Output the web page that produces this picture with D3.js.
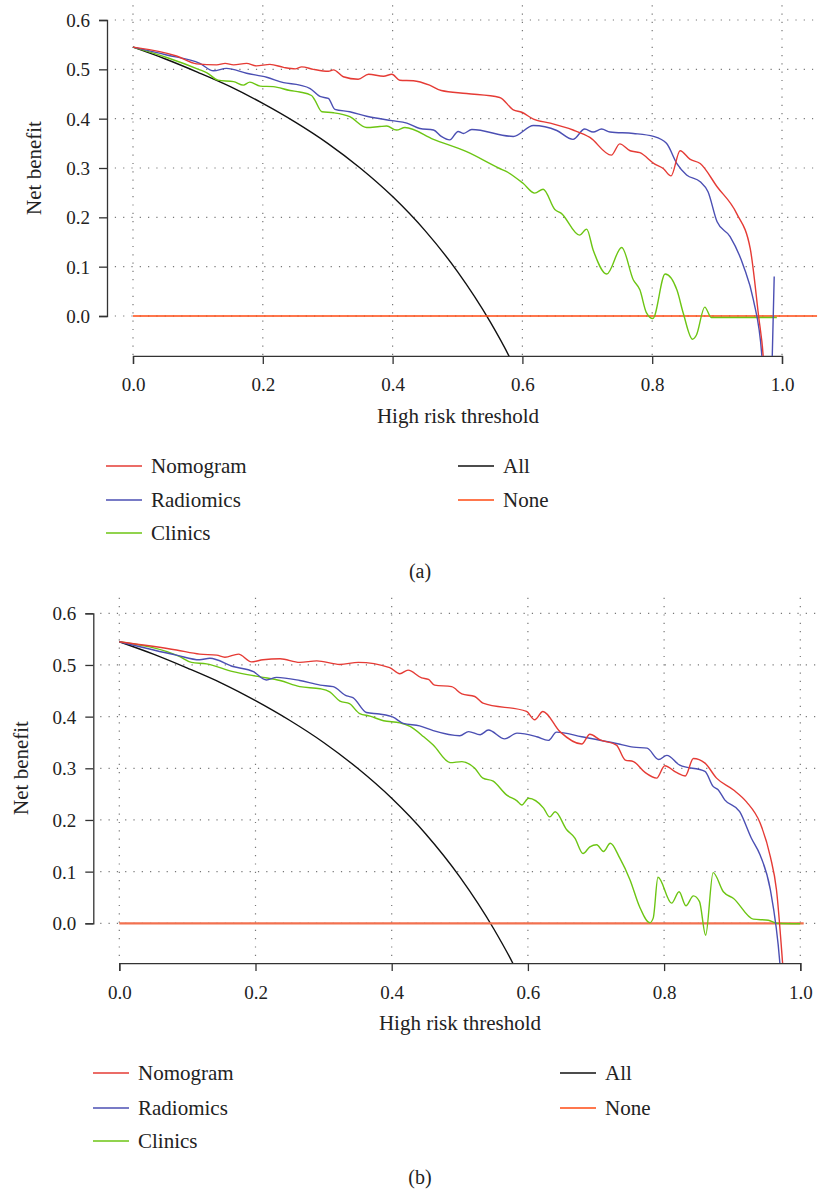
<!DOCTYPE html>
<html lang="en">
<head>
  <meta charset="utf-8">
  <title>Decision curves</title>
  <script src="https://d3js.org/d3.v7.min.js"></script>
  <style type="text/css">
    body { margin: 0; background: #fff; }
    svg text { font-family: 'Liberation Serif', 'DejaVu Serif', 'Noto Serif', serif; fill: #222; }
    .grid line { stroke: #777; stroke-width: 1.2; stroke-dasharray: 1.2,7.1; }
    .axis path, .axis line { stroke: #333; stroke-width: 1.3; }
    .axis text { font-size: 19px; }
  </style>
</head>
<body>
<div id="chart"></div>
<script type="text/javascript">

// values: [threshold, net benefit]
var xTicks = [0, 0.2, 0.4, 0.6, 0.8, 1.0];
var yTicks = [0, 0.1, 0.2, 0.3, 0.4, 0.5, 0.6];

var seriesNames = ['Nomogram', 'Radiomics', 'Clinics', 'All', 'None'];
var seriesColors = ['#e53b35', '#4b4fb3', '#6cc513', '#111111', '#ff4a12'];

var allCurve = [[0,.545],[.05,.521],[.1,.494],[.15,.465],[.2,.431],[.25,.393],[.3,.350],
  [.35,.300],[.4,.242],[.45,.173],[.5,.090],[.55,-.011],[.58,-.083],[.6,-.14]];

var nomogramA = [[0,.545],[.067,.527],[.098,.511],[.129,.509],[.142,.512],[.155,.509],[.175,.512],
  [.19,.507],[.211,.51],[.232,.504],[.25,.501],[.26,.505],[.278,.5],[.301,.496],[.309,.499],
  [.324,.485],[.347,.48],[.363,.49],[.386,.486],[.399,.49],[.411,.478],[.432,.477],[.457,.468],
  [.475,.457],[.514,.451],[.565,.443],[.586,.418],[.599,.413],[.617,.399],[.643,.391],[.678,.377],
  [.704,.362],[.737,.326],[.75,.349],[.766,.335],[.781,.331],[.804,.308],[.817,.299],[.829,.284],
  [.843,.335],[.858,.318],[.874,.309],[.9,.262],[.93,.208],[.951,.137],[.964,-.001],[.971,-.081],[.976,-.2]];

var radiomicsA = [[0,.545],[.052,.529],[.103,.512],[.124,.497],[.144,.502],[.175,.492],[.206,.484],
  [.232,.473],[.257,.468],[.273,.461],[.288,.445],[.301,.441],[.311,.419],[.334,.414],[.36,.405],
  [.399,.396],[.422,.391],[.442,.38],[.463,.377],[.475,.364],[.488,.357],[.501,.374],[.509,.37],
  [.522,.378],[.586,.364],[.617,.386],[.653,.376],[.678,.358],[.696,.379],[.709,.373],[.722,.379],
  [.735,.373],[.771,.37],[.802,.364],[.822,.35],[.838,.309],[.853,.286],[.874,.272],[.886,.252],
  [.9,.191],[.92,.161],[.941,.1],[.956,.032],[.969,-.081],[.975,-.25],[.982,-.25],[.985,-.081],[.988,.08]];

var clinicsA = [[0,.545],[.052,.524],[.103,.499],[.114,.493],[.131,.478],[.155,.475],[.17,.468],
  [.18,.474],[.196,.466],[.216,.465],[.242,.457],[.257,.454],[.275,.447],[.28,.438],[.291,.414],
  [.309,.412],[.334,.404],[.36,.382],[.38,.384],[.391,.385],[.406,.377],[.419,.382],[.463,.358],
  [.514,.333],[.565,.299],[.575,.293],[.601,.269],[.619,.249],[.632,.257],[.65,.216],[.66,.208],
  [.688,.164],[.699,.176],[.709,.134],[.73,.085],[.753,.139],[.771,.073],[.781,.053],[.791,.007],
  [.801,-.005],[.82,.085],[.838,.053],[.848,.005],[.862,-.047],[.868,-.039],[.881,.018],[.891,-.003],[.992,-.003]];

var noneA = [[0,0],[1.054,0]];

var nomogramB = [[0,.545],[.084,.529],[.118,.521],[.143,.519],[.155,.515],[.175,.521],[.194,.506],
  [.211,.51],[.236,.512],[.265,.505],[.29,.508],[.324,.501],[.351,.505],[.397,.495],[.412,.483],
  [.424,.49],[.444,.475],[.454,.472],[.463,.461],[.488,.458],[.503,.444],[.522,.439],[.534,.426],
  [.598,.41],[.61,.394],[.622,.41],[.647,.371],[.679,.347],[.691,.366],[.706,.355],[.73,.345],
  [.743,.316],[.755,.313],[.772,.292],[.789,.281],[.801,.305],[.818,.292],[.831,.285],[.843,.319],
  [.86,.31],[.877,.281],[.902,.258],[.921,.235],[.941,.194],[.956,.129],[.965,.065],[.974,-.077],[.978,-.15]];

var radiomicsB = [[0,.545],[.084,.519],[.118,.51],[.133,.513],[.167,.497],[.197,.487],[.216,.471],
  [.231,.476],[.265,.47],[.295,.461],[.314,.458],[.334,.44],[.343,.437],[.363,.408],[.382,.405],
  [.402,.399],[.417,.387],[.441,.382],[.461,.373],[.5,.363],[.513,.371],[.53,.365],[.542,.374],
  [.566,.357],[.584,.368],[.613,.361],[.63,.354],[.642,.37],[.679,.361],[.73,.348],[.755,.341],
  [.775,.339],[.792,.317],[.804,.325],[.823,.306],[.86,.294],[.872,.265],[.879,.259],[.889,.239],
  [.911,.216],[.928,.165],[.941,.132],[.956,.065],[.97,-.077],[.974,-.15]];

var clinicsB = [[0,.545],[.089,.516],[.106,.505],[.128,.502],[.167,.487],[.207,.477],[.236,.47],
  [.265,.458],[.295,.454],[.309,.448],[.324,.43],[.338,.425],[.353,.406],[.368,.401],[.388,.392],
  [.412,.388],[.427,.381],[.447,.361],[.461,.345],[.486,.311],[.503,.313],[.522,.3],[.534,.281],
  [.549,.275],[.569,.248],[.584,.237],[.591,.229],[.601,.242],[.623,.223],[.632,.206],[.64,.216],
  [.657,.181],[.669,.165],[.681,.135],[.691,.148],[.701,.152],[.711,.139],[.721,.155],[.735,.126],
  [.75,.084],[.764,.032],[.779,.001],[.784,.01],[.791,.089],[.811,.039],[.822,.061],[.832,.034],
  [.843,.053],[.852,.042],[.861,-.023],[.872,.098],[.887,.061],[.902,.048],[.931,.008],[.953,.006],
  [.965,0],[1.0,-.001]];

var noneB = [[0,0],[1.005,0]];

var W = 821, H = 1189;
var svg = d3.select('#chart').append('svg')
  .attr('width', W).attr('height', H)
  .attr('viewBox', '0 0 ' + W + ' ' + H);

var panels = [
  { id: 'a', label: '(a)', series: [nomogramA, radiomicsA, clinicsA, allCurve, noneA],
    xr: [133, 782], yr: [316, 20], yMin: -0.081, xMax: 1.048,
    tickY: 391, titleX: 458, titleY: 423, yTitleX: 41, yTitleY: 168,
    legX: [106, 458], legRows: [466, 500, 533], capY: 578, noneW: 1.5, noneColor: '#ff4a12' },
  { id: 'b', label: '(b)', series: [nomogramB, radiomicsB, clinicsB, allCurve, noneB],
    xr: [119.3, 800.3], yr: [923.3, 613.3], yMin: -0.077, xMax: 1.026,
    tickY: 999, titleX: 460, titleY: 1030, yTitleX: 28, yTitleY: 768,
    legX: [93, 560], legRows: [1073, 1108, 1141], capY: 1184, noneW: 2.2, noneColor: '#f2714f' }
];

panels.forEach(function(p) {
  var x = d3.scaleLinear().domain([0, 1]).range(p.xr);
  var y = d3.scaleLinear().domain([0, 0.6]).range(p.yr);
  var g = svg.append('g');
  var bottom = y(p.yMin);

  // dotted grid
  var grid = g.append('g').attr('class', 'grid');
  grid.selectAll('.h').data(yTicks).enter().append('line')
    .attr('x1', x(-0.028)).attr('x2', x(p.xMax))
    .attr('y1', function(d) { return y(d); }).attr('y2', function(d) { return y(d); });
  grid.selectAll('.v').data(xTicks).enter().append('line')
    .attr('x1', function(d) { return x(d); }).attr('x2', function(d) { return x(d); })
    .attr('y1', y(0.63)).attr('y2', bottom);

  // axes
  var xAxis = g.append('g').attr('class', 'axis')
    .attr('transform', 'translate(0,' + bottom + ')')
    .call(d3.axisBottom(x).tickValues(xTicks).tickFormat(d3.format('.1f')).tickSizeOuter(0).tickSize(8).tickPadding(0));
  xAxis.attr('font-family', null);
  xAxis.selectAll('text').attr('y', null).attr('dy', null)
    .attr('transform', 'translate(0,' + (p.tickY - bottom) + ')');

  var yAxisX = p.xr[0] - 26;
  var yAxis = g.append('g').attr('class', 'axis')
    .attr('transform', 'translate(' + yAxisX + ',0)')
    .call(d3.axisLeft(y).tickValues(yTicks).tickFormat(d3.format('.1f')).tickSizeOuter(0).tickSize(8).tickPadding(9));
  yAxis.attr('font-family', null);
  yAxis.selectAll('text').attr('dy', '0.35em');

  // curves
  var clipId = 'clip-' + p.id;
  g.append('clipPath').attr('id', clipId).append('rect')
    .attr('x', x(-0.03)).attr('y', y(0.65))
    .attr('width', x(1.1) - x(-0.03)).attr('height', bottom - y(0.65));

  var line = d3.line()
    .x(function(d) { return x(d[0]); })
    .y(function(d) { return y(d[1]); })
    .curve(d3.curveMonotoneX);

  var order = [3, 4, 2, 1, 0];
  var curves = g.append('g').attr('clip-path', 'url(#' + clipId + ')');
  order.forEach(function(i) {
    curves.append('path')
      .datum(p.series[i])
      .attr('fill', 'none')
      .attr('stroke', i === 4 ? p.noneColor : seriesColors[i])
      .attr('stroke-width', i === 4 ? p.noneW : 1.4)
      .attr('d', i === 4 ? d3.line().x(function(d) { return x(d[0]); }).y(function(d) { return y(d[1]); }) : line);
  });

  // titles
  g.append('text').attr('x', p.titleX).attr('y', p.titleY)
    .attr('text-anchor', 'middle').attr('font-size', '21px')
    .text('High risk threshold');
  g.append('text')
    .attr('transform', 'translate(' + p.yTitleX + ',' + p.yTitleY + ') rotate(-90)')
    .attr('text-anchor', 'middle').attr('font-size', '21px')
    .text('Net benefit');

  // legend: three rows left column, two rows right column
  seriesNames.forEach(function(name, i) {
    var col = i < 3 ? 0 : 1;
    var row = i < 3 ? i : i - 3;
    var lx = p.legX[col], ly = p.legRows[row];
    g.append('line').attr('x1', lx).attr('x2', lx + 36)
      .attr('y1', ly).attr('y2', ly)
      .attr('stroke', seriesColors[i]).attr('stroke-width', 1.4);
    g.append('text').attr('x', lx + 45).attr('y', ly + 7)
      .attr('font-size', '21px').text(name);
  });

  g.append('text').attr('x', 420).attr('y', p.capY)
    .attr('text-anchor', 'middle').attr('font-size', '20px')
    .text(p.label);
});

</script>
</body>
</html>
